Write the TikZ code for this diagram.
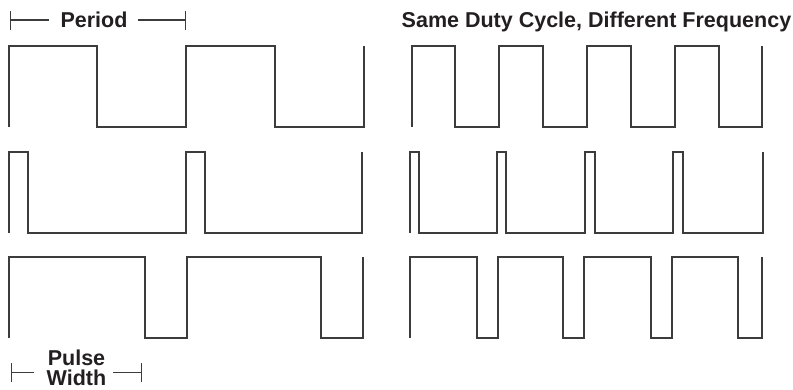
\documentclass[tikz,border=0pt]{standalone}
\usepackage{fontspec}
\setmainfont{Liberation Sans}
\usetikzlibrary{arrows.meta}
\definecolor{wavegray}{HTML}{3C3C3C}
\definecolor{textgray}{HTML}{231F20}
\tikzstyle{wave} = [line width=1.1bp, draw=wavegray]
\tikzstyle{caption} = [font=\fontsize{21.5bp}{20.5bp}\selectfont\bfseries,
    text=textgray, inner sep=0pt]
\tikzstyle{dim} = [line width=1.1bp, draw=wavegray, {Bar[width=19bp]}-]

\begin{document}
\begin{tikzpicture}[x=1bp, y=-1bp]
                \useasboundingbox (0,0) rectangle (793,389);

                % labels
                \node (period) [caption, anchor=base] at (94,27.3) {Period};
                \node (title) [caption, anchor=base] at (596.5,27.3) {Same Duty Cycle, Different Frequency};
                \node (pulse) [caption, align=center] at (76.5,367.8) {Pulse\\Width};

                \coordinate (pstart) at (10,20);
                \coordinate (pend) at (186,20);
                \coordinate (wstart) at (11,372.3);
                \coordinate (wend) at (142,372.3);

                \draw [dim] (pstart) -- ([xshift=-11bp]period.west |- pstart);
                \draw [dim] (pend) -- ([xshift=10bp]period.east |- pend);
                \draw [dim] (wstart) -- ([xshift=-13bp]pulse.west |- wstart);
                \draw [dim] (wend) -- ([xshift=7bp]pulse.east |- wend);

                % left: two periods
                \draw [wave] (9,127) -- (9,46) -- (97,46) -- (97,127) -- (186,127) -- (186,46)
                    -- (275,46) -- (275,127) -- (364,127) -- (364,46);
                \draw [wave] (9,233) -- (9,152) -- (28,152) -- (28,233) -- (186,233) -- (186,152)
                    -- (205,152) -- (205,233) -- (362,233) -- (362,152);
                \draw [wave] (9,338) -- (9,257) -- (145,257) -- (145,338) -- (187,338) -- (187,257)
                    -- (321,257) -- (321,338) -- (363,338) -- (363,257);

                % right: four periods
                \draw [wave] (412,127) -- (412,46) -- (455,46) -- (455,127) -- (499,127) -- (499,46)
                    -- (543,46) -- (543,127) -- (587,127) -- (587,46) -- (631,46) -- (631,127)
                    -- (675,127) -- (675,46) -- (719,46) -- (719,127) -- (762,127) -- (762,46);
                \draw [wave] (410,233) -- (410,152) -- (419,152) -- (419,233) -- (497,233) -- (497,152)
                    -- (506,152) -- (506,233) -- (585,233) -- (585,152) -- (595,152) -- (595,233)
                    -- (673,233) -- (673,152) -- (683,152) -- (683,233) -- (763,233) -- (763,152);
                \draw [wave] (410,338) -- (410,257) -- (477,257) -- (477,338) -- (498,338) -- (498,257)
                    -- (563,257) -- (563,338) -- (584,338) -- (584,257) -- (651,257) -- (651,338)
                    -- (672,338) -- (672,257) -- (738,257) -- (738,338) -- (762,338) -- (762,257);
            \end{tikzpicture}
\end{document}
